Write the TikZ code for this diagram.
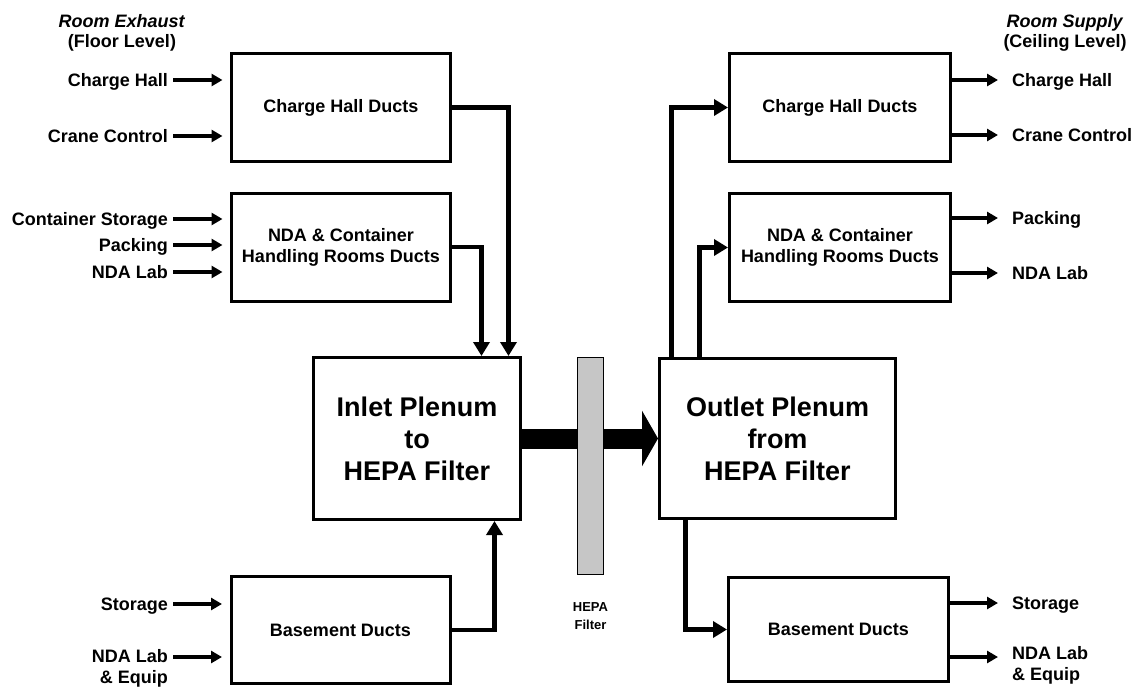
\documentclass[tikz,border=0pt]{standalone}
\usepackage{fontspec}
\setmainfont{Liberation Sans}
\usetikzlibrary{arrows.meta, positioning, calc}

\begin{document}
\begin{tikzpicture}[
    x=1pt, y=-1pt,
    duct/.style={draw, line width=3pt, minimum width=219pt, minimum height=108pt, align=center, font=\fontsize{18}{21}\selectfont\bfseries},
    plenum/.style={draw, line width=3pt, align=center, font=\fontsize{27}{32}\selectfont\bfseries},
    room/.style={inner sep=1pt, font=\fontsize{18}{21}\selectfont\bfseries},
    tag/.style={room, text height=12.9pt, text depth=0pt},
    feedin/.style={-{Triangle[length=11pt, width=12pt]}, line width=4.2pt, shorten <=4pt, shorten >=7.5pt},
    feedout/.style={-{Triangle[length=11pt, width=12pt]}, line width=4.2pt, shorten >=13pt},
    flow/.style={-{Triangle[length=14pt, width=16pt]}, line width=4.5pt}
]
\useasboundingbox (0,0) rectangle (1141,688);

% Exhaust side ducts
\node[duct] (chL) at (341,107.5) {Charge Hall Ducts};
\node[duct] (ndaL) at (341,247) {NDA \& Container\\Handling Rooms Ducts};
\node[duct, minimum height=107pt] (bsL) at (340.5,630) {Basement Ducts};

% Plenums
\node[plenum, minimum width=207pt, minimum height=162pt] (inl) at (417,438.5) {Inlet Plenum\\to\\HEPA Filter};
\node[plenum, minimum width=236pt, minimum height=160pt] (outl) at (777.5,438.5) {Outlet Plenum\\from\\HEPA Filter};

% Supply side ducts
\node[duct, minimum width=221pt] (chR) at (840,107.5) {Charge Hall Ducts};
\node[duct, minimum width=221pt] (ndaR) at (840,247.5) {NDA \& Container\\Handling Rooms Ducts};
\node[duct, minimum width=220pt, minimum height=104pt] (bsR) at (838.5,629.5) {Basement Ducts};

% Flow through the filter
\draw[-{Triangle[length=16pt, width=55pt]}, line width=20pt] (inl.east) -- (outl.west);
\node[draw, line width=1.2pt, fill=gray!45, minimum width=26pt, minimum height=217pt, inner sep=0pt] (hepa) at (590.5,466) {};
\node[below=26pt of hepa, align=center, inner sep=1pt, font=\fontsize{13}{18}\selectfont\bfseries] (hepaLbl) {HEPA\\Filter};

% Room exhaust (floor level)
\node[room, align=center, font=\fontsize{18}{20}\selectfont\bfseries] (exT) at (122,32.5) {\textit{Room Exhaust}\\(Floor Level)};
\node[tag, anchor=east] (e1) at (169,80) {Charge Hall};
\node[tag, anchor=east] (e2) at (169,136) {Crane Control};
\node[tag, anchor=east] (e3) at (169,219) {Container Storage};
\node[tag, anchor=east] (e4) at (169,245) {Packing};
\node[tag, anchor=east] (e5) at (169,272) {NDA Lab};
\node[tag, anchor=east] (e6) at (169,604) {Storage};
\node[room, anchor=north east, align=right] (e7) at (169,648) {NDA Lab\\\& Equip};
\coordinate (e7a) at ($(e7.north east)+(0,9)$);

\draw[feedin] (e1.east) -- (e1.east -| chL.west);
\draw[feedin] (e2.east) -- (e2.east -| chL.west);
\draw[feedin] (e3.east) -- (e3.east -| ndaL.west);
\draw[feedin] (e4.east) -- (e4.east -| ndaL.west);
\draw[feedin] (e5.east) -- (e5.east -| ndaL.west);
\draw[feedin] (e6.east) -- (e6.east -| bsL.west);
\draw[feedin] (e7a) -- (e7a -| bsL.west);

% Exhaust ducts into inlet plenum
\draw[flow] (chL.east) -| ($(inl.north east)+(-13.5,0)$);
\draw[flow] (ndaL.east) -| ($(inl.north east)+(-40.5,0)$);
\draw[flow] (bsL.east) -| ($(inl.south east)+(-27.5,0)$);

% Outlet plenum into supply ducts
\draw[flow] ($(outl.north west)+(13.5,0)$) |- (chR.west);
\draw[flow] ($(outl.north west)+(41.5,0)$) |- (ndaR.west);
\draw[flow] ($(outl.south west)+(27.5,0)$) |- (bsR.west);

% Room supply (ceiling level)
\node[room, align=center, font=\fontsize{18}{20}\selectfont\bfseries] (spT) at (1065,32.5) {\textit{Room Supply}\\(Ceiling Level)};
\node[tag, anchor=west] (s1) at (1011,80) {Charge Hall};
\node[tag, anchor=west] (s2) at (1011,135) {Crane Control};
\node[tag, anchor=west] (s3) at (1011,218) {Packing};
\node[tag, anchor=west] (s4) at (1011,273) {NDA Lab};
\node[tag, anchor=west] (s5) at (1011,603) {Storage};
\node[room, anchor=north west, align=left] (s6) at (1011,645.5) {NDA Lab\\\& Equip};
\coordinate (s6a) at ($(s6.north west)+(0,11.5)$);

\draw[feedout] (s1.west -| chR.east) -- (s1.west);
\draw[feedout] (s2.west -| chR.east) -- (s2.west);
\draw[feedout] (s3.west -| ndaR.east) -- (s3.west);
\draw[feedout] (s4.west -| ndaR.east) -- (s4.west);
\draw[feedout] (s5.west -| bsR.east) -- (s5.west);
\draw[feedout] (s6a -| bsR.east) -- (s6a);

\end{tikzpicture}
\end{document}
